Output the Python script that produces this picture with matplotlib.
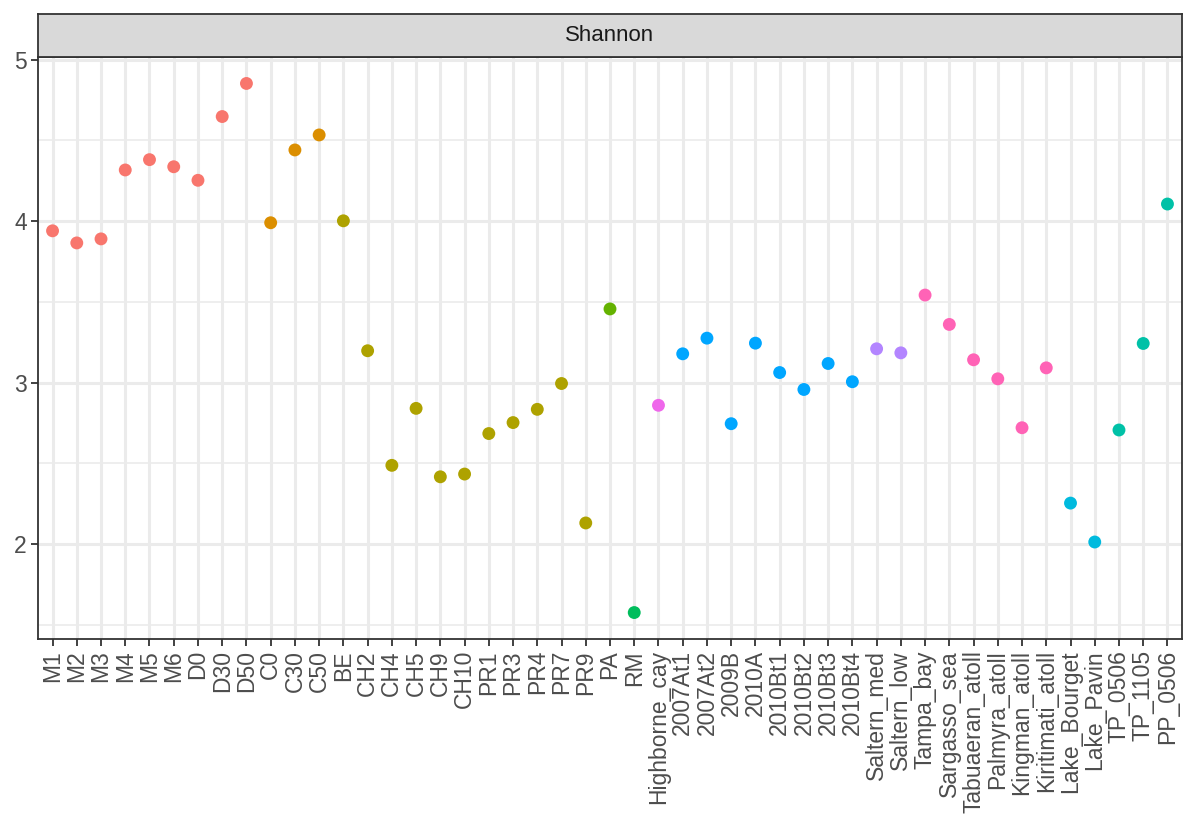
import matplotlib
matplotlib.use("Agg")
import matplotlib.pyplot as plt
from matplotlib.ticker import MultipleLocator

plt.rcParams["font.family"] = ["Liberation Sans", "DejaVu Sans"]

samples = ["M1", "M2", "M3", "M4", "M5", "M6", "D0", "D30", "D50",
           "C0", "C30", "C50", "BE", "CH2", "CH4", "CH5", "CH9", "CH10",
           "PR1", "PR3", "PR4", "PR7", "PR9", "PA", "RM", "Highborne_cay",
           "2007At1", "2007At2", "2009B", "2010A", "2010Bt1", "2010Bt2",
           "2010Bt3", "2010Bt4", "Saltern_med", "Saltern_low", "Tampa_bay",
           "Sargasso_sea", "Tabuaeran_atoll", "Palmyra_atoll", "Kingman_atoll",
           "Kiritimati_atoll", "Lake_Bourget", "Lake_Pavin", "TP_0506",
           "TP_1105", "PP_0506"]

shannon = [3.94, 3.865, 3.89, 4.317, 4.381, 4.337, 4.253, 4.648, 4.853,
           3.99, 4.441, 4.534, 4.002, 3.197, 2.487, 2.840, 2.416, 2.433,
           2.684, 2.752, 2.834, 2.994, 2.130, 3.456, 1.575, 2.859,
           3.178, 3.275, 2.745, 3.244, 3.062, 2.957,
           3.118, 3.005, 3.209, 3.184, 3.542,
           3.360, 3.141, 3.023, 2.720,
           3.091, 2.253, 2.012, 2.706,
           3.242, 4.106]

# environment group of each sample (index into the hue palette)
group = [0, 0, 0, 0, 0, 0, 0, 0, 0,
         1, 1, 1, 2, 2, 2, 2, 2, 2,
         2, 2, 2, 2, 2, 3, 4, 9,
         7, 7, 7, 7, 7, 7,
         7, 7, 8, 8, 10,
         10, 10, 10, 10,
         10, 6, 6, 5,
         5, 5]

palette = ["#F8766D", "#DB8E00", "#AEA200", "#64B200", "#00BD5C", "#00C1A7",
           "#00BADE", "#00A6FF", "#B385FF", "#EF67EB", "#FF63B6"]

W, H = 1187, 819
fig = plt.figure(figsize=(W / 100, H / 100), dpi=100)

left, right = 38, 1182
top_strip, top_panel, bottom_panel = 14, 57, 639

ax = fig.add_axes([left / W, 1 - bottom_panel / H, (right - left) / W,
                   (bottom_panel - top_panel) / H])
strip = fig.add_axes([left / W, 1 - top_panel / H, (right - left) / W,
                      (top_panel - top_strip) / H])

x = list(range(len(samples)))
colors = [palette[g] for g in group]

ax.set_facecolor("white")
ax.scatter(x, shannon, s=86, c=colors, edgecolors="none", zorder=3)

ax.set_xlim(-0.6, len(samples) - 0.4)
ymin, ymax = min(shannon), max(shannon)
pad = (ymax - ymin) * 0.05
ax.set_ylim(ymin - pad, ymax + pad)

ax.set_xticks(x)
ax.set_xticklabels(samples, rotation=90, fontsize=16.5, color="#4D4D4D")
ax.yaxis.set_major_locator(MultipleLocator(1))
ax.yaxis.set_minor_locator(MultipleLocator(0.5))
ax.tick_params(axis="y", which="major", labelsize=16.5, labelcolor="#4D4D4D",
               length=5, width=1.3, color="#333333", pad=3)
ax.tick_params(axis="y", which="minor", length=0)
ax.tick_params(axis="x", length=5, width=1.3, color="#333333", pad=3)

ax.grid(True, which="major", color="#EBEBEB", linewidth=2.2, zorder=0)
ax.grid(True, which="minor", axis="y", color="#EBEBEB", linewidth=1.2, zorder=0)
ax.set_axisbelow(True)
for sp in ax.spines.values():
    sp.set_color("#333333")
    sp.set_linewidth(1.3)

strip.set_facecolor("#D9D9D9")
strip.set_xticks([])
strip.set_yticks([])
for sp in strip.spines.values():
    sp.set_color("#333333")
    sp.set_linewidth(1.3)
strip.text(0.5, 0.5, "Shannon", ha="center", va="center", fontsize=16,
           color="#1A1A1A", transform=strip.transAxes)

fig.savefig("out.png", dpi=100, facecolor="white")
